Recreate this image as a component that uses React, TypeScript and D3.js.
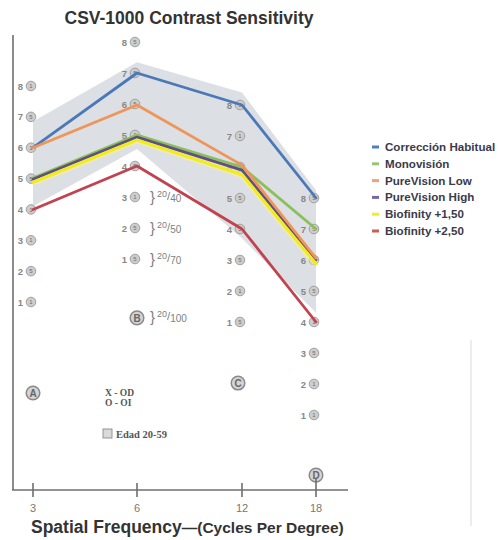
import React from "react";
import * as d3 from "d3";

// Spatial frequencies (cycles per degree) and axis tick labels
const frequencies = [3, 6, 12, 18];
const tickLabels = ["3", "6", "12", "18"];

// Mean contrast-sensitivity level per frequency for each group
const seriesNames = [
  "Corrección Habitual",
  "Monovisión",
  "PureVision Low",
  "PureVision High",
  "Biofinity +1,50",
  "Biofinity +2,50",
];
const correccionHabitual = [6, 7, 8, 8];
const monovision = [5.02, 5.0, 6.0, 7];
const pureVisionLow = [6, 5.97, 6.06, 6.06];
const pureVisionHigh = [4.98, 4.93, 5.9, 6];
const biofinity150 = [4.88, 4.84, 5.75, 5.88];
const biofinity250 = [4, 4, 4, 4];

// Normative range, age 20-59
const normUpper = [6.85, 7.35, 8.4, 8.25];
const normLower = [4.1, 4.55, 3.7, 4.3];

// Patch rows 1..8 of the CSV-1000 form, with the patch marker of each row (row 8 first)
const levels = [8, 7, 6, 5, 4, 3, 2, 1];
const patchMarks3 = ["1", "5", "1", "5", "1", "1", "5", "1"];
const patchMarks6 = ["5", "5", "5", "1", "5", "1", "5", "5"];
const patchMarks12 = ["5", "1", "5", "5", "5", "5", "1", "5"];
const patchMarks18 = ["5", "5", "5", "5", "1", "5", "1", "1"];
const columnLetters = ["A", "B", "C", "D"];

// Visual acuity equivalents beside the 6 cpd column
const acuityLevels = [3, 2, 1];
const acuityDenominators = ["40", "50", "70"];
const acuityBDenominator = "100";

const W = 498;
const H = 540;

const colors = ["#4a78b8", "#8cbf5a", "#f0955a", "#5e4f86", "#f2ec1e", "#c2434f"];
const legendColors = ["#4f7fbf", "#97c47a", "#f2a273", "#7868a0", "#efec2e", "#c45f59"];

export default function App() {
  const allSeries = [
    correccionHabitual,
    monovision,
    pureVisionLow,
    pureVisionHigh,
    biofinity150,
    biofinity250,
  ];
  const patchMarks = [patchMarks3, patchMarks6, patchMarks12, patchMarks18];

  const x = d3.scaleLinear().domain(frequencies).range([33, 137, 242, 316]);
  const colTops = [86, 42, 105, 198];
  const yCol = colTops.map((t, i) =>
    d3.scaleLinear().domain([8, 1]).range([t, t + (i === 0 ? 216 : 217)])
  );
  const letterLevels = [-1.95, -0.9, -0.97, -0.94];

  const line = d3
    .line<number>()
    .x((_, i) => x(frequencies[i]))
    .y((v, i) => yCol[i](v));

  const band = d3
    .area<number>()
    .x((_, i) => x(frequencies[i]))
    .y0((_, i) => yCol[i](normLower[i]))
    .y1((_, i) => yCol[i](normUpper[i]));

  // draw order: blue, green, purple, orange, yellow, red
  const drawOrder = [0, 1, 3, 2, 4, 5];

  const axisY = 490;
  const sans = "'Liberation Sans', Arial, sans-serif";
  const serif = "'Liberation Serif', 'Times New Roman', serif";
  const labelGrey = "#888";

  return (
    <svg
      width={W}
      height={H}
      viewBox={`0 0 ${W} ${H}`}
      style={{ position: "absolute", left: 0, top: 0, background: "#fff" }}
    >
      <rect width={W} height={H} fill="#fff" />

      {/* title */}
      <text
        x={189}
        y={24}
        textAnchor="middle"
        fontFamily={sans}
        fontWeight="bold"
        fontSize={17.5}
        fill="#333"
      >
        CSV-1000 Contrast Sensitivity
      </text>

      {/* normative band */}
      <path d={band(frequencies.map(() => 0)) || ""} fill="#d6d9de" fillOpacity={0.85} />

      {/* patch row labels */}
      {frequencies.map((f, ci) =>
        levels.map((lv, ri) => {
          const cx = x(f) - 2;
          const cy = yCol[ci](lv);
          return (
            <g key={`lv-${ci}-${ri}`}>
              <text
                x={cx - 10.5}
                y={cy + 3.5}
                textAnchor="middle"
                fontFamily={sans}
                fontWeight="bold"
                fontSize={9.5}
                fill={labelGrey}
              >
                {lv}
              </text>
              <circle cx={cx} cy={cy} r={4.8} fill="#cdcdcd" stroke="#9a9a9a" strokeWidth={0.9} />
              <text
                x={cx}
                y={cy + 2.1}
                textAnchor="middle"
                fontFamily={sans}
                fontSize={6}
                fill="#6e6e6e"
              >
                {patchMarks[ci][ri]}
              </text>
            </g>
          );
        })
      )}

      {/* column letters */}
      {frequencies.map((f, ci) => {
        const cx = x(f) + (ci === 2 ? -4 : 0);
        const cy = yCol[ci](letterLevels[ci]);
        return (
          <g key={`letter-${ci}`}>
            <circle cx={cx} cy={cy} r={6.8} fill="#d4d4d4" stroke="#8a8a8a" strokeWidth={1.5} />
            <text
              x={cx}
              y={cy + 3.6}
              textAnchor="middle"
              fontFamily={sans}
              fontWeight="bold"
              fontSize={10}
              fill="#666"
            >
              {columnLetters[ci]}
            </text>
          </g>
        );
      })}

      {/* acuity equivalents */}
      {acuityLevels.map((lv, i) => {
        const cy = yCol[1](lv);
        return (
          <text key={`ac-${i}`} x={150} y={cy + 4.5} fontFamily={sans} fill="#808080">
            <tspan fontSize={15}>{"}"}</tspan>
            <tspan fontSize={9} dx={2} dy={-5}>
              20
            </tspan>
            <tspan fontSize={11.5} dy={3}>
              /
            </tspan>
            <tspan fontSize={10} dy={2}>
              {acuityDenominators[i]}
            </tspan>
          </text>
        );
      })}
      <text x={150} y={yCol[1](letterLevels[1]) + 4.5} fontFamily={sans} fill="#808080">
        <tspan fontSize={15}>{"}"}</tspan>
        <tspan fontSize={9} dx={2} dy={-5}>
          20
        </tspan>
        <tspan fontSize={11.5} dy={3}>
          /
        </tspan>
        <tspan fontSize={10} dy={2}>
          {acuityBDenominator}
        </tspan>
      </text>

      {/* eye key and band key */}
      <text x={105} y={396} fontFamily={serif} fontSize={9.5} fontWeight="bold" fill="#555">
        X - OD
      </text>
      <text x={105} y={406} fontFamily={serif} fontSize={9.5} fontWeight="bold" fill="#555">
        O - OI
      </text>
      <rect x={103} y={429} width={9} height={9} fill="#dadada" stroke="#8a8a8a" strokeWidth={0.9} />
      <text x={116} y={437.5} fontFamily={serif} fontSize={10.5} fontWeight="bold" fill="#555">
        Edad 20-59
      </text>

      {/* series lines */}
      <path
        d={line(biofinity150) || ""}
        fill="none"
        stroke="#f7f3a0"
        strokeWidth={7}
        strokeOpacity={0.55}
        strokeLinejoin="round"
      />
      {drawOrder.map((si) => (
        <path
          key={`s-${si}`}
          d={line(allSeries[si]) || ""}
          fill="none"
          stroke={colors[si]}
          strokeWidth={si === 4 ? 3.2 : 2.8}
          strokeLinejoin="round"
          strokeLinecap="round"
        />
      ))}

      {/* axes */}
      <line x1={13} x2={13} y1={35} y2={axisY} stroke="#6f6f6f" strokeWidth={1.6} />
      <line x1={12} x2={348} y1={axisY} y2={axisY} stroke="#6f6f6f" strokeWidth={1.6} />
      {frequencies.map((f, i) => (
        <g key={`tick-${i}`}>
          <line
            x1={x(f)}
            x2={x(f)}
            y1={i === 3 ? 478 : 483}
            y2={497}
            stroke="#6f6f6f"
            strokeWidth={1.6}
          />
          <text
            x={x(f)}
            y={512}
            textAnchor="middle"
            fontFamily={sans}
            fontSize={11}
            fill="#777"
          >
            {tickLabels[i]}
          </text>
        </g>
      ))}
      <text x={31} y={533} fontFamily={sans} fontWeight="bold" fill="#333">
        <tspan fontSize={17.5}>Spatial Frequency</tspan>
        <tspan fontSize={15.5}>—(Cycles Per Degree)</tspan>
      </text>

      {/* faint edge line */}
      <line x1={471} x2={471} y1={340} y2={526} stroke="#e6e6e6" strokeWidth={1.5} />

      {/* legend */}
      {seriesNames.map((name, i) => {
        const ly = 147 + i * 16.8;
        return (
          <g key={`lg-${i}`}>
            <line x1={372} x2={379} y1={ly} y2={ly} stroke={legendColors[i]} strokeWidth={3} />
            <text
              x={385}
              y={ly + 4}
              fontFamily={sans}
              fontWeight="bold"
              fontSize={11.6}
              fill="#3a3a4a"
            >
              {name}
            </text>
          </g>
        );
      })}
    </svg>
  );
}
